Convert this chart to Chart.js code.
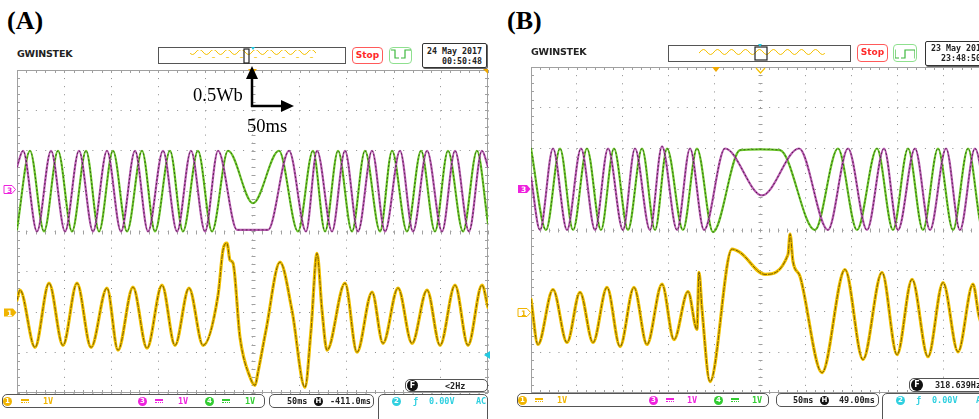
<!DOCTYPE html>
<html lang="en">
<head>
    <meta charset="UTF-8">
    <title>GW Instek captures (A) and (B)</title>
    <script src="https://cdn.jsdelivr.net/npm/chart.js"></script>
    <style>
        html, body { margin: 0; padding: 0; background: #fff; }
        body { width: 979px; height: 419px; overflow: hidden; position: relative; }
        .abs { position: absolute; }
        .label { font: bold 26px "Liberation Serif", serif; color: #000; line-height: 30px; }
        .note { font: 18.5px "Liberation Serif", serif; color: #000; line-height: 20px; }
        .logo { font: bold 9.5px "DejaVu Sans", sans-serif; color: #222; line-height: 11px; letter-spacing: -0.2px; }
        .overview { border: 1px solid #555; box-sizing: border-box; background: #fff; }
        .stop { border: 1px solid #ff5a5a; border-radius: 4px; box-sizing: border-box; color: #ff2a2a;
                font: bold 9px "DejaVu Sans", sans-serif; text-align: center; line-height: 14px; }
        .run { border: 1px solid #8fe08f; border-radius: 4px; box-sizing: border-box; }
        .date { border: 1px solid #333; border-radius: 2px; box-sizing: border-box; box-shadow: 1px 1px 0 #666;
                font: bold 8.3px "DejaVu Sans Mono", monospace; line-height: 10px; color: #222; white-space: pre; }
        .bar { border: 1px solid #555; border-radius: 5px; box-sizing: border-box; }
        .mono { font: bold 8.5px "DejaVu Sans Mono", monospace; line-height: 10px; white-space: nowrap; }
        .dot { width: 9px; height: 9px; border-radius: 50%; color: #fff; text-align: center;
               font: bold 7px "DejaVu Sans", sans-serif; line-height: 9px; }
        .dc { width: 8px; height: 1px; border-top: 2px solid; border-bottom: 1px dotted; }
        canvas { position: absolute; }
    </style>
</head>
<body>
    <canvas id="scopeA" width="473" height="325" style="left:16px;top:69px"></canvas>
    <canvas id="scopeB" width="460" height="328" style="left:530px;top:66px"></canvas>

    <!-- panel A header -->
    <div class="abs label" style="left:7px;top:6px">(A)</div>
    <div class="abs logo" style="left:17px;top:48px">GWINSTEK</div>
    <div class="abs overview" style="left:158px;top:47px;width:188px;height:17px"></div>
    <div class="abs stop" style="left:352px;top:47px;width:31px;height:17px">Stop</div>
    <div class="abs run" style="left:389px;top:47px;width:23px;height:17px"></div>
    <div class="abs date" style="left:422px;top:43px;width:65px;height:25px;text-align:right;padding:2px 4px 0 0">24 May 2017
00:50:48</div>

    <!-- panel B header -->
    <div class="abs label" style="left:507px;top:6px">(B)</div>
    <div class="abs logo" style="left:531px;top:46px">GWINSTEK</div>
    <div class="abs overview" style="left:668px;top:45px;width:183px;height:17px"></div>
    <div class="abs stop" style="left:857px;top:44px;width:31px;height:18px">Stop</div>
    <div class="abs run" style="left:893px;top:44px;width:24px;height:18px"></div>
    <div class="abs date" style="left:925px;top:41px;width:70px;height:25px;padding:1px 0 0 5px">23 May 2017
  23:48:50</div>

    <!-- panel A status bar -->
    <div class="abs bar" style="left:2px;top:394px;width:263px;height:14px"></div>
    <div class="abs dot" style="left:3px;top:397px;background:#f0b400">1</div>
    <div class="abs dc" style="left:21px;top:399px;color:#f0b400"></div>
    <div class="abs mono" style="left:43px;top:396px;color:#f0b400">1V</div>
    <div class="abs dot" style="left:138px;top:397px;background:#ee22dd">3</div>
    <div class="abs dc" style="left:155px;top:399px;color:#ee22dd"></div>
    <div class="abs mono" style="left:178px;top:396px;color:#ee22dd">1V</div>
    <div class="abs dot" style="left:205px;top:397px;background:#33cc33">4</div>
    <div class="abs dc" style="left:222px;top:399px;color:#33cc33"></div>
    <div class="abs mono" style="left:245px;top:396px;color:#33cc33">1V</div>
    <div class="abs bar" style="left:269px;top:394px;width:105px;height:14px"></div>
    <div class="abs mono" style="left:287px;top:396px;color:#222">50ms</div>
    <div class="abs dot" style="left:314px;top:397px;background:#111">H</div>
    <div class="abs mono" style="left:330px;top:396px;color:#222">-411.0ms</div>
    <div class="abs bar" style="left:378px;top:394px;width:110px;height:40px"></div>
    <div class="abs dot" style="left:392px;top:397px;background:#30d0e0">2</div>
    <div class="abs mono" style="left:413px;top:396px;color:#30d0e0">ƒ</div>
    <div class="abs mono" style="left:429px;top:396px;color:#30d0e0">0.00V</div>
    <div class="abs mono" style="left:476px;top:396px;color:#30d0e0">AC</div>
    <div class="abs bar" style="left:405px;top:379px;width:83px;height:13px;background:#fff"></div>
    <div class="abs dot" style="left:407px;top:380px;width:11px;height:11px;line-height:11px;font-size:8px;background:#111">F</div>
    <div class="abs mono" style="left:445px;top:381px;color:#222">&lt;2Hz</div>

    <!-- panel B status bar -->
    <div class="abs bar" style="left:517px;top:393px;width:252px;height:14px"></div>
    <div class="abs dot" style="left:518px;top:396px;background:#f0b400">1</div>
    <div class="abs dc" style="left:535px;top:398px;color:#f0b400"></div>
    <div class="abs mono" style="left:557px;top:395px;color:#f0b400">1V</div>
    <div class="abs dot" style="left:649px;top:396px;background:#ee22dd">3</div>
    <div class="abs dc" style="left:666px;top:398px;color:#ee22dd"></div>
    <div class="abs mono" style="left:687px;top:395px;color:#ee22dd">1V</div>
    <div class="abs dot" style="left:714px;top:396px;background:#33cc33">4</div>
    <div class="abs dc" style="left:731px;top:398px;color:#33cc33"></div>
    <div class="abs mono" style="left:752px;top:395px;color:#33cc33">1V</div>
    <div class="abs bar" style="left:776px;top:393px;width:103px;height:14px"></div>
    <div class="abs mono" style="left:793px;top:395px;color:#222">50ms</div>
    <div class="abs dot" style="left:820px;top:396px;background:#111">H</div>
    <div class="abs mono" style="left:839px;top:395px;color:#222">49.00ms</div>
    <div class="abs bar" style="left:882px;top:393px;width:110px;height:40px"></div>
    <div class="abs dot" style="left:896px;top:396px;background:#30d0e0">2</div>
    <div class="abs mono" style="left:916px;top:395px;color:#30d0e0">ƒ</div>
    <div class="abs mono" style="left:932px;top:395px;color:#30d0e0">0.00V</div>
    <div class="abs mono" style="left:976px;top:395px;color:#30d0e0">AC</div>
    <div class="abs bar" style="left:909px;top:378px;width:90px;height:14px;background:#fff"></div>
    <div class="abs dot" style="left:911px;top:379px;width:12px;height:12px;line-height:12px;font-size:8px;background:#111">F</div>
    <div class="abs mono" style="left:935px;top:380px;color:#222">318.639Hz</div>

    <!-- markers, overview waves and the scale arrows -->
    <svg class="abs" style="left:0;top:0" width="979" height="419">
        <defs>
            <pattern id="wave" width="14" height="8" patternUnits="userSpaceOnUse">
                <path d="M0 4 Q3.5 -1 7 4 T14 4" fill="none" stroke="#f5c000" stroke-width="1"/>
            </pattern>
            <pattern id="pulse" width="20" height="12" patternUnits="userSpaceOnUse">
                <path d="M1 10 H5 V2 H15 V10 H19" fill="none" stroke="#3cb83c" stroke-width="1.2"/>
            </pattern>
        </defs>
        <rect x="190" y="50" width="126" height="8" fill="url(#wave)"/>
        <rect x="244" y="49" width="5" height="14" fill="none" stroke="#222" stroke-width="1.2"/>
        <polygon points="251,47 255,47 253,50" fill="#22c8e0"/>
        <rect x="391" y="49" width="20" height="12" fill="url(#pulse)"/>

        <rect x="699" y="48" width="126" height="8" fill="url(#wave)"/>
        <rect x="755" y="47" width="12" height="13" fill="none" stroke="#222" stroke-width="1.2"/>
        <polygon points="758,44 762,44 760,47" fill="#22c8e0"/>
        <rect x="895" y="47" width="20" height="12" fill="url(#pulse)"/>

        <polygon points="248,69 257,69 252.5,74" fill="#f0a800"/>
        <polygon points="483,69 488,69 488,74" fill="#f0a800"/>
        <polygon points="484,355 490,351 490,359" fill="#22c8e0"/>
        <polygon points="712,67 720,67 716,72" fill="#f0a800"/>
        <polyline points="756,68 760.5,73 765,68" fill="none" stroke="#f5c000" stroke-width="1.2"/>

        <polygon points="4,185.5 12,185.5 15.5,189.5 12,193.5 4,193.5" fill="#fff" stroke="#ee22dd" stroke-width="1"/>
        <text x="7" y="192.5" font-family="DejaVu Sans" font-weight="bold" font-size="7.5" fill="#ee22dd">3</text>
        <polygon points="4,308.5 13,308.5 16.5,312.5 13,316.5 4,316.5" fill="#f0b400"/>
        <text x="7" y="315.5" font-family="DejaVu Sans" font-weight="bold" font-size="7.5" fill="#fff">1</text>
        <polygon points="518,185 527,185 530.5,189 527,193 518,193" fill="#ee22dd"/>
        <text x="521" y="192" font-family="DejaVu Sans" font-weight="bold" font-size="7.5" fill="#fff">3</text>
        <polygon points="518,308.5 527,308.5 530.5,312.5 527,316.5 518,316.5" fill="#fff" stroke="#f0b400" stroke-width="1"/>
        <text x="521" y="315.5" font-family="DejaVu Sans" font-weight="bold" font-size="7.5" fill="#f0b400">1</text>

        <line x1="252" y1="107" x2="252" y2="76" stroke="#000" stroke-width="2.5"/>
        <polygon points="252,66 246,79 258,79" fill="#000"/>
        <line x1="251" y1="106" x2="283" y2="106" stroke="#000" stroke-width="2.5"/>
        <polygon points="294,106 281,100 281,112" fill="#000"/>
    </svg>
    <div class="abs note" style="left:193px;top:85px">0.5Wb</div>
    <div class="abs note" style="left:247px;top:116px">50ms</div>

    <script>
        // time in ms across the 10 divisions (50 ms/div), values in volts (1 V/div)
        // channel positions in divisions from screen centre
        const CH3_POS = 1;
        const CH4_POS = 1;
        const CH1_POS = -2;

        // ---- (A) 24 May 2017 ----
        const aCh3Time = [0, 6.4, 21.2, 36.1, 51.0, 65.8, 80.7, 95.5, 110.4, 125.3, 139.1, 155.0, 169.9, 184.7, 199.6, 213.4,
            233.6, 266.5, 288.8, 306.8, 318.5, 334.4, 348.2, 362.0, 376.9, 390.7, 406.6, 420.4, 435.3, 451.2, 465.0, 479.8, 493.6, 500];
        const aCh3Volt = [0.6, 1.0, -1.0, 1.0, -1.0, 1.0, -1.0, 1.0, -1.0, 1.0, -1.0, 1.0, -1.0, 1.0, -1.0, 1.0,
            -0.96, -0.96, 1.0, -1.0, 1.0, -1.0, 1.0, -1.0, 1.0, -1.0, 1.0, -1.0, 1.0, -1.0, 1.0, -1.0, 1.0, 0.6];

        const aCh4Time = [0, 13.8, 28.7, 43.5, 58.4, 73.3, 87.1, 101.9, 116.8, 132.7, 146.5, 162.4, 176.2, 192.1, 207.0, 224.0,
            250.5, 278.1, 298.3, 314.2, 327.0, 340.8, 355.6, 369.4, 385.4, 398.1, 414.0, 428.9, 443.7, 457.5, 473.5, 488.3, 500];
        const aCh4Volt = [-0.95, 1.0, -1.0, 1.0, -1.0, 1.0, -1.0, 1.0, -1.0, 1.0, -1.0, 1.0, -1.0, 1.0, -1.0, 1.0,
            -0.3, 1.0, -1.0, 1.0, -1.0, 1.0, -1.0, 1.0, -1.0, 1.0, -1.0, 1.0, -1.0, 1.0, -1.0, 1.0, -0.8];

        const aCh1Time = [0, 3.2, 19.1, 34.0, 48.8, 63.7, 78.6, 95.5, 107.2, 123.1, 138.0, 153.9, 167.7, 182.6, 197.5, 213.4,
            218.7, 222.9, 226.1, 229.3, 236.7, 247.4, 252.7, 255.8, 264.3, 279.2, 291.9, 305.7, 312.1, 318.5, 323.8, 329.1,
            348.2, 360.9, 376.9, 388.5, 404.5, 419.3, 435.3, 449.1, 465.0, 478.8, 493.6, 500];
        const aCh1Volt = [0.30, 0.55, -0.87, 0.72, -0.82, 0.72, -0.87, 0.60, -0.94, 0.62, -0.89, 0.67, -0.82, 0.60, -0.82, 0.42,
            1.54, 1.71, 1.29, 1.22, -0.62, -1.61, -1.81, -1.49, -0.45, 1.24, 0.05, -1.86, -0.45, 1.46, 0.05, -0.94,
            0.72, -0.99, 0.50, -0.77, 0.60, -0.77, 0.55, -0.82, 0.67, -0.82, 0.67, 0.12];

        // ---- (B) 23 May 2017 ----
        const bCh3Time = [0, 9.8, 24.0, 39.3, 54.6, 69.9, 84.1, 100.4, 113.5, 129.9, 143.0, 159.4, 173.6, 188.9, 211.8,
            252.2, 292.6, 324.2, 346.1, 366.8, 385.4, 400.7, 419.2, 435.6, 453.1, 468.3, 484.7, 500];
        const bCh3Volt = [0.3, -1.0, 1.0, -1.0, 1.0, -1.0, 1.0, -1.0, 1.0, -1.0, 1.05, -1.0, 1.0, -1.0, 1.0,
            -0.15, 1.0, -1.0, 1.0, -1.0, 1.0, -1.0, 1.0, -1.0, 1.0, -1.0, 1.0, -0.95];

        const bCh4Time = [0, 16.4, 31.7, 45.9, 61.1, 76.4, 90.6, 105.9, 121.2, 135.4, 148.5, 165.9, 181.2, 198.7,
            228.2, 250.0, 271.8, 310.0, 335.1, 355.9, 377.7, 395.2, 411.6, 427.9, 444.3, 460.7, 477.1, 493.4, 500];
        const bCh4Volt = [1.0, -1.0, 1.0, -1.0, 1.0, -1.0, 1.0, -1.0, 1.0, -1.0, 1.0, -1.0, 1.0, -1.05,
            0.96, 0.98, 0.96, -1.0, 1.0, -1.0, 1.0, -1.0, 1.0, -1.0, 1.0, -1.0, 1.0, -1.0, -0.7];

        const bCh1Time = [0, 7.6, 24.0, 39.3, 53.5, 67.7, 83.0, 97.2, 112.4, 126.6, 143.0, 156.1, 171.4, 181.2, 183.4, 186.7,
            195.4, 219.4, 228.2, 255.5, 280.6, 282.8, 286.0, 293.7, 317.7, 342.8, 362.4, 383.2, 399.6, 416.0, 433.4,
            449.8, 466.2, 482.5, 489.1, 500];
        const bCh1Volt = [0.30, -0.81, 0.54, -0.76, 0.47, -0.76, 0.59, -0.86, 0.59, -0.81, 0.67, -0.69, 0.49, -0.44, 0.96, 0.05,
            -1.72, 1.53, 1.45, 0.91, 1.40, 1.90, 1.23, 0.86, -1.50, 1.03, -1.18, 0.96, -1.06, 0.79, -1.11,
            0.71, -0.99, 0.67, -0.12, -0.8];

        const CH_STYLE = {
            ch1: { color: '#f2c200', dark: '#6e5200', width: 3.2, dash: [2, 1, 1, 2] },
            ch3: { color: '#b85ab0', dark: '#4a1c44', width: 2.2, dash: [1, 3] },
            ch4: { color: '#6cc62a', dark: '#2a5a10', width: 2.2, dash: [1, 3] }
        };

        function trace(times, volts, pos, style) {
            const pts = times.map((t, i) => ({ x: t, y: volts[i] + pos }));
            return [
                { data: pts, borderColor: style.color, borderWidth: style.width, order: 2 },
                { data: pts, borderColor: style.dark, borderWidth: 1, borderDash: style.dash, order: 1 }
            ];
        }

        // oscilloscope frame: solid border with minor ticks, plus ticks on the centre cross
        const scopeFrame = {
            id: 'scopeFrame',
            beforeDatasetsDraw(chart) {
                const { ctx, chartArea: a, scales: { x, y } } = chart;
                ctx.save();
                ctx.strokeStyle = '#a0a0a0';
                ctx.lineWidth = 1;
                ctx.strokeRect(a.left + 0.5, a.top + 0.5, a.width - 1, a.height - 1);
                ctx.beginPath();
                const cx = Math.round(x.getPixelForValue(250)) + 0.5;
                const cy = Math.round(y.getPixelForValue(0)) + 0.5;
                for (let v = x.min; v <= x.max; v += 10) {
                    const px = Math.round(x.getPixelForValue(v)) + 0.5;
                    ctx.moveTo(px, a.top); ctx.lineTo(px, a.top + 3);
                    ctx.moveTo(px, a.bottom); ctx.lineTo(px, a.bottom - 3);
                    ctx.moveTo(px, cy - 2); ctx.lineTo(px, cy + 2);
                }
                for (let v = y.min; v <= y.max; v += 0.2) {
                    const py = Math.round(y.getPixelForValue(v)) + 0.5;
                    ctx.moveTo(a.left, py); ctx.lineTo(a.left + 3, py);
                    ctx.moveTo(a.right, py); ctx.lineTo(a.right - 3, py);
                    ctx.moveTo(cx - 2, py); ctx.lineTo(cx + 2, py);
                }
                ctx.stroke();
                ctx.restore();
            }
        };

        function makeScope(id, datasets, hMinor, vMinor) {
            new Chart(document.getElementById(id), {
                type: 'line',
                data: { datasets: datasets },
                options: {
                    responsive: false,
                    animation: false,
                    events: [],
                    layout: { padding: 1 },
                    elements: {
                        point: { radius: 0 },
                        line: { cubicInterpolationMode: 'monotone', borderCapStyle: 'round', borderJoinStyle: 'round' }
                    },
                    plugins: { legend: { display: false }, tooltip: { enabled: false } },
                    scales: {
                        x: {
                            type: 'linear', min: 0, max: 500,
                            ticks: { display: false, stepSize: 50 },
                            grid: { color: '#8c8c8c', lineWidth: 1, drawTicks: false },
                            border: { display: false, dash: [1, vMinor - 1] }
                        },
                        y: {
                            type: 'linear', min: -4, max: 4,
                            ticks: { display: false, stepSize: 1 },
                            grid: { color: '#8c8c8c', lineWidth: 1, drawTicks: false },
                            border: { display: false, dash: [1, hMinor - 1] }
                        }
                    }
                },
                plugins: [scopeFrame]
            });
        }

        makeScope('scopeA', [
            ...trace(aCh3Time, aCh3Volt, CH3_POS, CH_STYLE.ch3),
            ...trace(aCh4Time, aCh4Volt, CH4_POS, CH_STYLE.ch4),
            ...trace(aCh1Time, aCh1Volt, CH1_POS, CH_STYLE.ch1)
        ], 471 / 50, 323 / 40);

        makeScope('scopeB', [
            ...trace(bCh3Time, bCh3Volt, CH3_POS, CH_STYLE.ch3),
            ...trace(bCh4Time, bCh4Volt, CH4_POS, CH_STYLE.ch4),
            ...trace(bCh1Time, bCh1Volt, CH1_POS, CH_STYLE.ch1)
        ], 458 / 50, 326 / 40);
    </script>
</body>
</html>
